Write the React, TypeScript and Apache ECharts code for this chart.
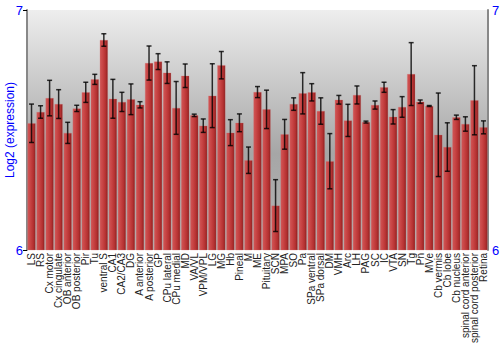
import React, { useEffect, useRef } from "react";
import * as echarts from "echarts";

const categories = [
  "LS", "RS", "Cx motor", "Cx cingulate", "OB anterior", "OB posterior", "Pir", "Tu",
  "ventral S", "CA1", "CA2/CA3", "DG", "A anterior", "A posterior", "GP", "CPu lateral",
  "CPu medial", "MD", "VA/VL", "VPM/VPL", "LG", "MG", "Hb", "Pineal", "M", "ME",
  "Pituitary", "SCN", "MPA", "SO", "Pa", "SPa ventral", "SPa dorsal", "DM", "VMH", "Arc",
  "LH", "PAG", "SC", "IC", "VTA", "SN", "Tg", "Pn", "MVe", "Cb vermis", "Cb lobe",
  "Cb nucleus", "spinal cord anterior", "spinal cord posterior", "Retina",
];

const values = [
  6.528, 6.575, 6.633, 6.608, 6.488, 6.59, 6.657, 6.711,
  6.875, 6.63, 6.617, 6.628, 6.605, 6.779, 6.785, 6.739,
  6.592, 6.726, 6.561, 6.518, 6.643, 6.77, 6.489, 6.53, 6.374, 6.658,
  6.586, 6.185, 6.482, 6.608, 6.653, 6.657, 6.579, 6.37, 6.626, 6.54,
  6.646, 6.533, 6.604, 6.678, 6.555, 6.596, 6.733, 6.618, 6.6, 6.48, 6.429,
  6.553, 6.525, 6.624, 6.511,
];

const errors = [
  0.08, 0.026, 0.074, 0.06, 0.044, 0.013, 0.042, 0.021,
  0.026, 0.081, 0.04, 0.064, 0.013, 0.071, 0.033, 0.045,
  0.11, 0.049, 0.005, 0.028, 0.133, 0.057, 0.054, 0.037, 0.055, 0.023,
  0.08, 0.108, 0.062, 0.026, 0.086, 0.036, 0.055, 0.115, 0.018, 0.067,
  0.0375, 0.004, 0.017, 0.021, 0.03, 0.043, 0.131, 0.007, 0.002, 0.174, 0.101,
  0.009, 0.03, 0.144, 0.027,
];

const yMin = 6;
const yMax = 7;

export default function App() {
  const ref = useRef<HTMLDivElement>(null);
  useEffect(() => {
    if (!ref.current) return;
    const chart = echarts.init(ref.current, undefined, { renderer: "svg" });
    const errData = categories.map((c, i) => [i, values[i], errors[i]]);
    chart.setOption({
      animation: false,
      grid: {
        left: 27,
        right: 12,
        top: 10,
        bottom: 100,
        outerBoundsMode: "none",
        containLabel: false,
        show: true,
        borderWidth: 0,
        backgroundColor: new echarts.graphic.LinearGradient(0, 0, 0, 1, [
          { offset: 0, color: "#eeeeee" },
          { offset: 0.6, color: "#a6a6a6" },
          { offset: 1, color: "#b4b4b4" },
        ]),
      },
      xAxis: {
        type: "category",
        data: categories,
        axisLine: { show: false },
        axisTick: { show: false },
        axisLabel: {
          rotate: 90,
          interval: 0,
          margin: 3,
          fontFamily: "Liberation Sans, Arial, sans-serif",
          fontSize: 10,
          color: "#222",
        },
      },
      yAxis: [
        {
          type: "value",
          min: yMin,
          max: yMax,
          interval: 1,
          name: "Log2 (expression)",
          nameLocation: "middle",
          nameGap: 11,
          nameMoveOverlap: false,
          nameTextStyle: {
            color: "#0000ff",
            fontSize: 12,
            fontFamily: "Liberation Sans, Arial, sans-serif",
          },
          axisLine: { show: true, lineStyle: { color: "#888", width: 2 } },
          axisTick: { show: true, length: 4, lineStyle: { color: "#000" } },
          axisLabel: {
            color: "#0000ff",
            fontSize: 13,
            margin: 4,
            fontFamily: "Liberation Sans, Arial, sans-serif",
          },
          splitLine: { show: false },
        },
        {
          type: "value",
          min: yMin,
          max: yMax,
          interval: 1,
          position: "right",
          axisLine: { show: true, lineStyle: { color: "#888", width: 2 } },
          axisTick: { show: false },
          axisLabel: {
            color: "#0000ff",
            fontSize: 13,
            margin: 4,
            fontFamily: "Liberation Sans, Arial, sans-serif",
          },
          splitLine: { show: false },
        },
      ],
      series: [
        {
          type: "bar",
          data: values,
          barCategoryGap: "10%",
          itemStyle: {
            color: new echarts.graphic.LinearGradient(0, 0, 1, 0, [
              { offset: 0, color: "#d05656" },
              { offset: 0.35, color: "#c84444" },
              { offset: 0.75, color: "#b33030" },
              { offset: 1, color: "#8a2020" },
            ]),
            borderColor: "rgba(220,110,110,0.5)",
            borderWidth: 0.5,
          },
        },
        {
          type: "custom",
          data: errData,
          z: 10,
          renderItem: (params: any, api: any) => {
            const x = api.value(0);
            const v = api.value(1);
            const e = api.value(2);
            const top = api.coord([x, v + e]);
            const bot = api.coord([x, v - e]);
            const hw = 2.5;
            const style = { stroke: "rgba(0,0,0,0.8)", lineWidth: 1.5 };
            return {
              type: "group",
              children: [
                { type: "line", shape: { x1: top[0], y1: top[1], x2: bot[0], y2: bot[1] }, style },
                { type: "line", shape: { x1: top[0] - hw, y1: top[1], x2: top[0] + hw, y2: top[1] }, style },
                { type: "line", shape: { x1: bot[0] - hw, y1: bot[1], x2: bot[0] + hw, y2: bot[1] }, style },
              ],
            };
          },
        },
      ],
    });
    return () => chart.dispose();
  }, []);
  return <div ref={ref} style={{ width: 500, height: 350, position: "absolute", left: 0, top: 0 }} />;
}
